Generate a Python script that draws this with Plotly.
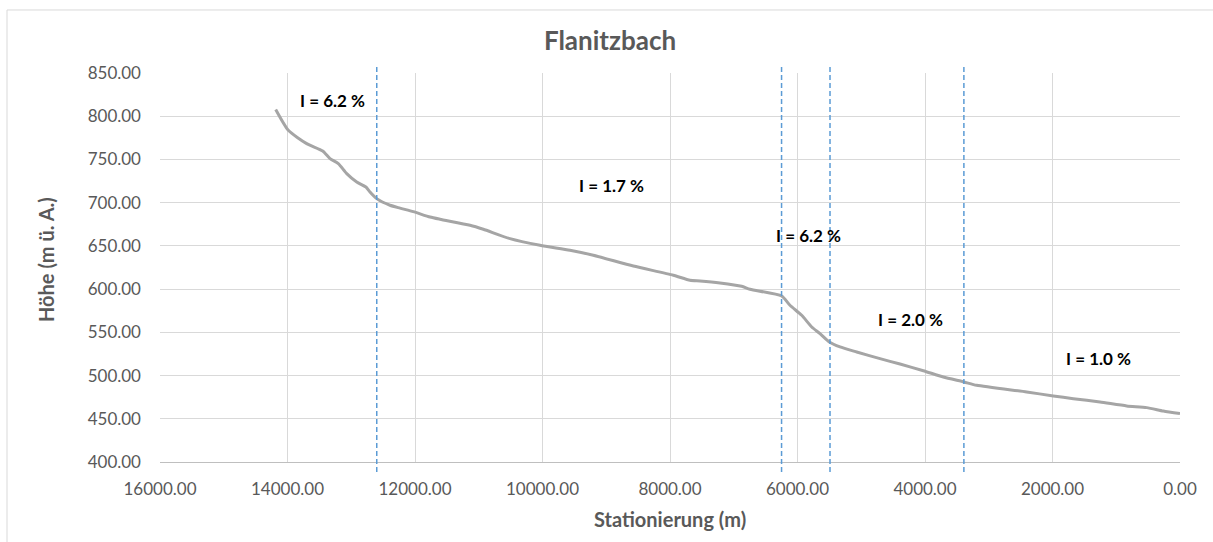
import plotly.graph_objects as go

# Längsprofil Flanitzbach: Stationierung (m) und Sohlhöhe (m ü. A.)
stationierung = [14185, 13987, 13699, 13448, 13333, 13203, 13071, 12914, 12769, 12706,
                 12601, 12392, 12235, 12026, 11764, 11608, 11137, 10928, 10510, 10039,
                 9569, 9203, 8575, 7948, 7686, 7529, 7216, 6876, 6745, 6248,
                 6118, 5934, 5777, 5647, 5501, 5333, 5071, 4706, 4392, 4026,
                 3712, 3388, 3189, 2405, 1987, 1673, 1255, 836, 522, 262, 0]
hoehe = [807.7, 783.7, 768.3, 759.8, 751.0, 745.2, 733.6, 723.9, 718.1, 712.3,
         704.7, 697.0, 693.7, 689.6, 683.4, 680.8, 673.8, 669.2, 658.4, 650.7,
         644.9, 639.1, 626.7, 616.0, 610.2, 609.4, 607.1, 603.3, 599.8, 592.0,
         581.3, 569.7, 556.2, 548.5, 538.8, 533.1, 527.3, 519.6, 513.3, 505.6,
         498.3, 492.6, 488.7, 481.0, 476.4, 473.3, 469.4, 464.8, 462.9, 459.0, 456.0]

# Abschnittsgrenzen (gestrichelte Linien)
grenzen = [12600, 6250, 5490, 3390]

# Gefälle-Beschriftungen je Abschnitt
gefaelle_text = ["I = 6.2 %", "I = 1.7 %", "I = 6.2 %", "I = 2.0 %", "I = 1.0 %"]
gefaelle_x = [13300, 8910, 5820, 4235, 1271]
gefaelle_y = [818, 720, 662, 565, 520]

FONT = "Lato"
GRAU = "#595959"

fig = go.Figure()
fig.add_trace(go.Scatter(
    x=stationierung, y=hoehe, mode="lines",
    line=dict(color="#a5a5a5", width=3, shape="spline", smoothing=0.6),
    showlegend=False, hoverinfo="x+y",
))

shapes = []
for g in grenzen:
    shapes.append(dict(type="line", xref="x", yref="paper", x0=g, x1=g, y0=-0.026, y1=1.02,
                       line=dict(color="#5b9bd5", width=1.5, dash="5px,3px"), layer="above"))
# Diagrammrahmen
shapes.append(dict(type="rect", xref="paper", yref="paper", x0=-0.15, x1=1.1, y0=-0.4, y1=1.162,
                   line=dict(color="#d9d9d9", width=1), fillcolor="rgba(0,0,0,0)", layer="below"))

annotations = []
for t, ax_, ay_ in zip(gefaelle_text, gefaelle_x, gefaelle_y):
    annotations.append(dict(x=ax_, y=ay_, xref="x", yref="y", text=t, showarrow=False,
                            xanchor="center", yanchor="middle",
                            font=dict(family=FONT, size=17, color="#000000", weight="bold")))
annotations.append(dict(x=(670 - 160) / 1020, y=-(519 - 462) / 389, xref="paper", yref="paper",
                        text="Stationierung (m)", showarrow=False,
                        xanchor="center", yanchor="middle",
                        font=dict(family=FONT, size=20, color=GRAU, weight="bold")))
annotations.append(dict(x=(46 - 160) / 1020, y=(462 - 260) / 389, xref="paper", yref="paper",
                        text="Höhe (m ü. A.)", showarrow=False, textangle=-90,
                        xanchor="center", yanchor="middle",
                        font=dict(family=FONT, size=20, color=GRAU, weight="bold")))

fig.update_layout(
    width=1213, height=542,
    margin=dict(l=160, r=33, t=73, b=80),
    paper_bgcolor="white", plot_bgcolor="white",
    title=dict(text="Flanitzbach", x=610 / 1213, xanchor="center", y=1 - 41 / 542, yanchor="middle",
               font=dict(family=FONT, size=26, color=GRAU, weight="bold")),
    xaxis=dict(range=[16000, 0], dtick=2000, tick0=0, tickformat=".2f",
               showgrid=True, gridcolor="#d9d9d9", gridwidth=1,
               showline=True, linecolor="#bfbfbf", linewidth=1, zeroline=False,
               ticks="", ticklabelstandoff=12,
               tickfont=dict(family=FONT, size=17, color=GRAU)),
    yaxis=dict(range=[400, 850], dtick=50, tick0=400, tickformat=".2f",
               showgrid=True, gridcolor="#d9d9d9", gridwidth=1,
               showline=False, zeroline=False,
               ticks="", ticklabelstandoff=18,
               tickfont=dict(family=FONT, size=17, color=GRAU)),
    shapes=shapes,
    annotations=annotations,
)

fig.write_html("out.html")
